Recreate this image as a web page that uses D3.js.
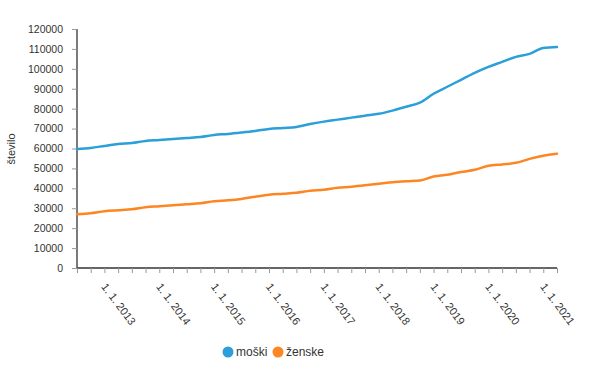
<!DOCTYPE html>
<html><head><meta charset="utf-8">
<script src="https://cdn.jsdelivr.net/npm/d3@7/dist/d3.min.js"></script>
<style>
body{margin:0;background:#fff;}
svg{font-family:"Liberation Sans",Arial,sans-serif;}
</style></head><body>
<svg id="c" width="593" height="366"></svg>
<script>
const years = [2012,2013,2014,2015,2016,2017,2018,2019,2020,2021];
// quarterly periods from 1.4.2012 to 1.1.2021
const periods = [];
for (let y = 2012; y <= 2021; y++) {
  for (const m of [1,4,7,10]) {
    if ((y === 2012 && m === 1) || (y === 2021 && m > 1)) continue;
    periods.push("1. " + m + ". " + y);
  }
}
const moski = [59800,60300,61300,62300,62800,63800,64300,64800,65300,65800,66800,67300,
  68000,68800,69800,70300,70800,72300,73500,74500,75500,76500,77400,79000,
  81000,83000,87500,91000,94500,98000,101000,103500,106000,107500,110500,111000];
const zenske = [27000,27500,28500,29000,29500,30500,31000,31500,32000,32500,33500,34000,
  34700,35800,36800,37300,37800,38800,39300,40300,40800,41500,42300,43000,
  43500,43900,45900,46800,48200,49300,51300,52000,52800,54800,56400,57400];
const yTicks = [0,10000,20000,30000,40000,50000,60000,70000,80000,90000,100000,110000,120000];
const series = [
  {name:"moški", values:moski, color:"#2a9fd8"},
  {name:"ženske", values:zenske, color:"#fd8623"}
];

const svg = d3.select("#c");
const x = d3.scalePoint().domain(periods).range([77,557]);
const y = d3.scaleLinear().domain([0,120000]).range([268,29]);

// y axis
const ya = svg.append("g").attr("transform","translate(77,0)")
  .call(d3.axisLeft(y).tickValues(yTicks).tickSize(5).tickPadding(9).tickFormat(d3.format("d")));
ya.select(".domain").attr("stroke","#333").attr("stroke-width",1.3).attr("d","M0,29V268");
ya.selectAll(".tick line").attr("stroke","#999");
ya.selectAll(".tick text").attr("fill","#333").style("font-size","10.5px").style("font-family","inherit");

// x axis
const xa = svg.append("g").attr("transform","translate(0,268)")
  .call(d3.axisBottom(x).tickSize(5).tickFormat(d => d.startsWith("1. 1. ") ? d : ""));
xa.select(".domain").attr("stroke","#333").attr("stroke-width",1.3).attr("d","M77,0H557");
xa.selectAll(".tick line").attr("stroke","#999");
xa.selectAll(".tick text")
  .attr("fill","#333").style("font-size","11px").style("font-family","inherit")
  .attr("text-anchor","middle").attr("dy","0.35em").attr("y",0)
  .attr("transform","translate(0,36) rotate(53)");

// y title
svg.append("text").attr("transform","translate(15,149) rotate(-90)")
  .attr("text-anchor","middle").attr("fill","#333").style("font-size","11px").text("število");

// lines
const line = d3.line().x((d,i)=>x(periods[i])).y(d=>y(d)).curve(d3.curveMonotoneX);
series.forEach(s => {
  svg.append("path").datum(s.values).attr("d",line)
    .attr("fill","none").attr("stroke",s.color).attr("stroke-width",2.5)
    .attr("stroke-linejoin","round").attr("stroke-linecap","round");
});

// legend
const legX = [228, 278];
const lg = svg.append("g");
series.forEach((s,i) => {
  const g = lg.append("g").attr("transform",`translate(${legX[i]},352)`);
  g.append("circle").attr("r",5.5).attr("fill",s.color);
  g.append("text").attr("x",8).attr("dy","0.35em").attr("fill","#333")
    .style("font-size","12px").text(s.name);
});
</script>
</body></html>
